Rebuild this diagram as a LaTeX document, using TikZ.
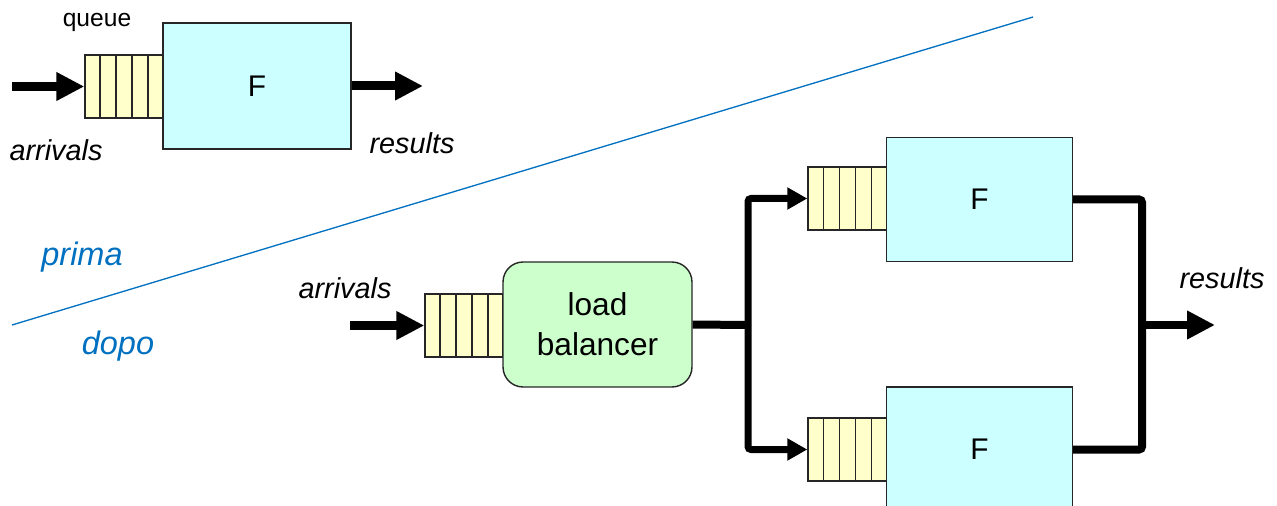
\documentclass[tikz,border=0pt]{standalone}
\usepackage{fontspec}
\setmainfont{Liberation Sans}
\usetikzlibrary{arrows.meta,calc}
\definecolor{qfill}{RGB}{255,255,204}
\definecolor{ffill}{RGB}{204,255,255}
\definecolor{lbfill}{RGB}{204,255,204}
\definecolor{sepblue}{RGB}{0,112,192}
\tikzset{
  qbox/.style={draw=black!85, line width=0.8pt, fill=qfill, minimum width=1.56cm, minimum height=1.26cm, inner sep=0pt},
  fbox/.style={draw=black!85, line width=0.8pt, fill=ffill, minimum width=3.72cm, minimum height=2.5cm, inner sep=0pt, font=\fontsize{17}{20}\selectfont},
  lbbox/.style={draw=black!85, line width=0.8pt, fill=lbfill, rounded corners=0.4cm, minimum width=3.78cm, minimum height=2.5cm, inner sep=0pt, align=center, font=\fontsize{18}{22.7}\selectfont},
  bigarrow/.style={line width=0.18cm, -{Triangle[length=0.56cm,width=0.54cm]}},
  smallarrow/.style={line width=0.14cm, rounded corners=0.06cm, -{Triangle[length=0.4cm,width=0.42cm]}},
  thickline/.style={line width=0.16cm, rounded corners=0.06cm},
  lbl/.style={inner sep=0pt, font=\fontsize{16.4}{19}\selectfont\itshape},
  bluelbl/.style={inner sep=0pt, text=sepblue, font=\fontsize{18.5}{22}\selectfont\itshape}
}
\newcommand{\qlines}[1]{\foreach \i in {1,...,4} \draw[line width=0.8pt, black!85] ($(#1.south west)!\i/5!(#1.south east)$) -- ($(#1.north west)!\i/5!(#1.north east)$);}
\begin{document}
\begin{tikzpicture}[x=0.02cm,y=-0.02cm]
\useasboundingbox (0,0) rectangle (1277,506);
% separator
\coordinate (s1) at (12,325);
\coordinate (s2) at (1033,17);
\draw[sepblue, line width=0.75pt] (s1) -- (s2);
\node[bluelbl] (prima) at (82,257) {prima};
\node[bluelbl] (dopo) at (118,346) {dopo};
% top (prima)
\node[qbox] (q0) at (124,86.5) {};
\qlines{q0}
\node[fbox, minimum width=3.76cm, minimum height=2.52cm] (f0) at (257,86) {F};
\node[inner sep=0pt, font=\fontsize{14}{16}\selectfont] (queue) at (97,22) {queue};
\node[lbl] (arr0) at (56,150) {arrivals};
\node[lbl] (res0) at (412,143) {results};
\coordinate (in0) at (12,86.5);
\coordinate (out0) at (423,86);
\draw[bigarrow] (in0) -- (q0.west);
\draw[bigarrow] (f0.east) -- (out0);
% bottom (dopo)
\node[qbox] (qb) at (464,325.5) {};
\qlines{qb}
\node[lbbox] (lb) at (597.5,324.5) {load\\balancer};
\node[lbl] (arr1) at (345,288) {arrivals};
\coordinate (in1) at (350,325.5);
\draw[bigarrow] (in1) -- (qb.west);
\node[qbox, minimum width=1.58cm] (q1) at (847.5,198.5) {};
\qlines{q1}
\node[fbox, minimum height=2.48cm] (f1) at (979.5,199.5) {F};
\node[qbox, minimum width=1.58cm] (q2) at (847.5,449.5) {};
\qlines{q2}
\node[fbox] (f2) at (979.5,449.5) {F};
\coordinate (j) at (748,325);
\coordinate (k) at (1142,325);
\coordinate (out1) at (1215,325);
\draw[thickline] (lb.east) -- (j);
\draw[smallarrow] (j) |- (q1.west);
\draw[smallarrow] (j) |- (q2.west);
\draw[thickline] (f1.east) -| (k) |- (f2.east);
\draw[bigarrow] (k) -- (out1);
\node[lbl] (res1) at (1222,278) {results};
\end{tikzpicture}
\end{document}
